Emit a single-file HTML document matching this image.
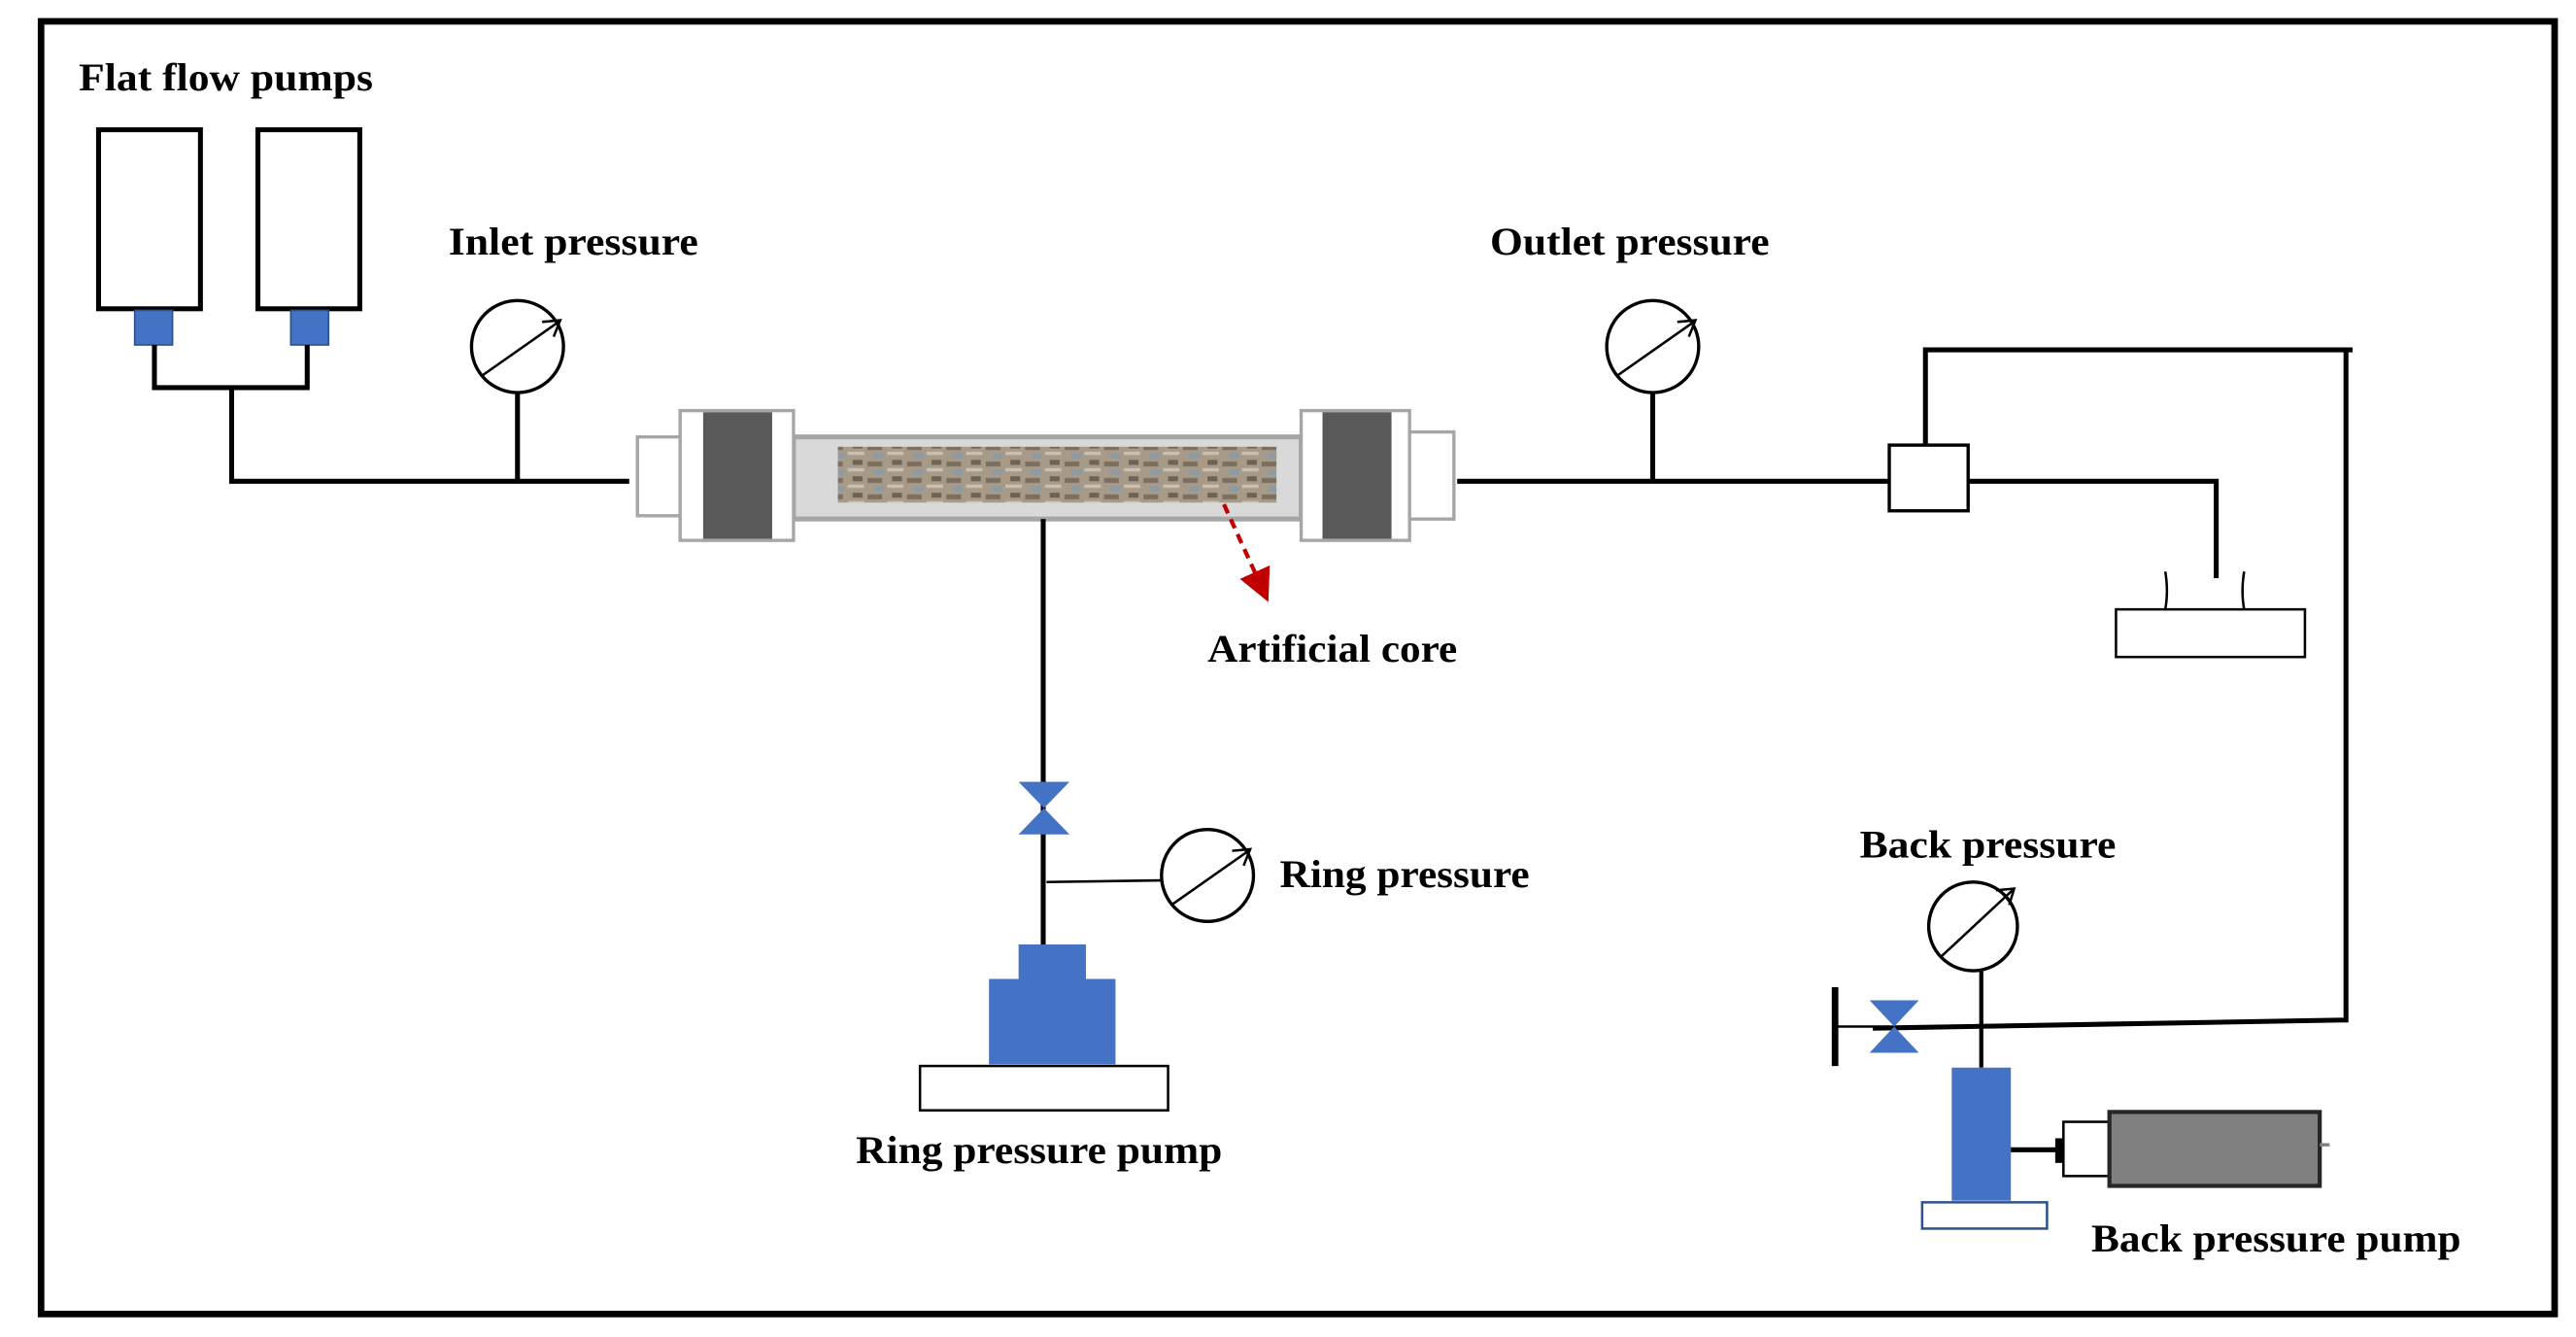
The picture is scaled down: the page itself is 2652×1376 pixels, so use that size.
<!DOCTYPE html>
<html><head><meta charset="utf-8"><style>
html,body{margin:0;padding:0;background:#fff;}
svg{display:block;}
text{font-family:"Liberation Serif",serif;font-weight:bold;font-size:24px;fill:#000;}
</style></head><body>
<svg width="2652" height="1376" viewBox="0 0 1568 814" preserveAspectRatio="none" xmlns="http://www.w3.org/2000/svg">
<defs>
<pattern id="rock" width="24" height="10" patternUnits="userSpaceOnUse">
<rect width="24" height="10" fill="#a89a88"/>
<rect x="0" y="1" width="9" height="3" fill="#7d6f60"/>
<rect x="12" y="5" width="10" height="2" fill="#c9c0b2"/>
<rect x="4" y="6" width="6" height="3" fill="#8a9aa6"/>
<rect x="15" y="0" width="6" height="3" fill="#6e6255"/>
</pattern>
<marker id="ah" markerWidth="8" markerHeight="8" refX="6" refY="4" orient="auto"><path d="M0,0 L8,4 L0,8 Z" fill="#c00000"/></marker>
</defs>
<rect x="25" y="13" width="1530" height="787" fill="none" stroke="#000" stroke-width="4"/>

<text x="48" y="55" textLength="179" lengthAdjust="spacingAndGlyphs">Flat flow pumps</text>
<rect x="60" y="79" width="62" height="109" fill="#fff" stroke="#000" stroke-width="3"/>
<rect x="157" y="79" width="62" height="109" fill="#fff" stroke="#000" stroke-width="3"/>
<rect x="82" y="189" width="23" height="21" fill="#4472c4" stroke="#2f528f" stroke-width="1"/>
<rect x="177" y="189" width="23" height="21" fill="#4472c4" stroke="#2f528f" stroke-width="1"/>
<polyline points="94,210 94,236 187,236 187,210" fill="none" stroke="#000" stroke-width="3"/>
<polyline points="141,236 141,293 383,293" fill="none" stroke="#000" stroke-width="3"/>

<text x="273" y="155" textLength="152" lengthAdjust="spacingAndGlyphs">Inlet pressure</text>
<circle cx="315" cy="211" r="28" fill="#fff" stroke="#000" stroke-width="2"/>
<line x1="293" y1="229" x2="340" y2="196" stroke="#000" stroke-width="1.5"/>
<polyline points="330,196 341,195 337,205" fill="none" stroke="#000" stroke-width="1.5"/>
<line x1="315" y1="239" x2="315" y2="293" stroke="#000" stroke-width="3"/>

<!-- core holder -->
<rect x="483" y="266" width="309" height="50" fill="#d9d9d9" stroke="#a6a6a6" stroke-width="3"/>
<rect x="510" y="272" width="267" height="34" fill="url(#rock)"/>
<rect x="388" y="266" width="26" height="48" fill="#fff" stroke="#a6a6a6" stroke-width="2"/>
<rect x="414" y="250" width="69" height="79" fill="#fff" stroke="#a6a6a6" stroke-width="2"/>
<rect x="428" y="251" width="42" height="77" fill="#595959"/>
<rect x="792" y="250" width="66" height="79" fill="#fff" stroke="#a6a6a6" stroke-width="2"/>
<rect x="805" y="251" width="42" height="77" fill="#595959"/>
<rect x="858" y="263" width="27" height="53" fill="#fff" stroke="#a6a6a6" stroke-width="2"/>
<line x1="745" y1="307" x2="770" y2="362" stroke="#c00000" stroke-width="2.5" stroke-dasharray="6,4" marker-end="url(#ah)"/>
<text x="735" y="403" textLength="152" lengthAdjust="spacingAndGlyphs">Artificial  core</text>

<line x1="887" y1="293" x2="1150" y2="293" stroke="#000" stroke-width="3"/>
<text x="907" y="155" textLength="170" lengthAdjust="spacingAndGlyphs">Outlet pressure</text>
<circle cx="1006" cy="211" r="28" fill="#fff" stroke="#000" stroke-width="2"/>
<line x1="984" y1="229" x2="1031" y2="196" stroke="#000" stroke-width="1.5"/>
<polyline points="1021,196 1032,195 1028,205" fill="none" stroke="#000" stroke-width="1.5"/>
<line x1="1006" y1="239" x2="1006" y2="293" stroke="#000" stroke-width="3"/>

<rect x="1150" y="271" width="48" height="40" fill="#fff" stroke="#000" stroke-width="2"/>
<polyline points="1198,293 1349,293 1349,352" fill="none" stroke="#000" stroke-width="3"/>
<path d="M1318,348 Q1320,360 1318,371 M1366,348 Q1364,360 1366,371" fill="none" stroke="#000" stroke-width="1.5"/>
<rect x="1288" y="371" width="115" height="29" fill="#fff" stroke="#000" stroke-width="1.5"/>
<polyline points="1172,271 1172,213 1432,213" fill="none" stroke="#000" stroke-width="3"/>
<polyline points="1428,213 1428,621 1140,626" fill="none" stroke="#000" stroke-width="3"/>

<!-- ring -->
<line x1="635" y1="316" x2="635" y2="575" stroke="#000" stroke-width="3"/>
<polygon points="620,476 651,476 620,508 651,508" fill="#4472c4"/>
<line x1="637" y1="537" x2="707" y2="536" stroke="#000" stroke-width="1.5"/>
<circle cx="735" cy="533" r="28" fill="#fff" stroke="#000" stroke-width="2"/>
<line x1="713" y1="551" x2="760" y2="518" stroke="#000" stroke-width="1.5"/>
<polyline points="750,518 761,517 757,527" fill="none" stroke="#000" stroke-width="1.5"/>
<text x="779" y="540" textLength="152" lengthAdjust="spacingAndGlyphs">Ring pressure</text>
<rect x="620" y="575" width="41" height="21" fill="#4472c4"/>
<rect x="602" y="596" width="77" height="52" fill="#4472c4"/>
<rect x="560" y="649" width="151" height="27" fill="#fff" stroke="#000" stroke-width="1.5"/>
<text x="521" y="708" textLength="223" lengthAdjust="spacingAndGlyphs">Ring pressure pump</text>

<!-- back -->
<text x="1132" y="522" textLength="156" lengthAdjust="spacingAndGlyphs">Back pressure</text>
<circle cx="1201" cy="564" r="27" fill="#fff" stroke="#000" stroke-width="2"/>
<line x1="1182" y1="582" x2="1225" y2="542" stroke="#000" stroke-width="1.5"/>
<polyline points="1215,542 1226,541 1223,551" fill="none" stroke="#000" stroke-width="1.5"/>
<line x1="1206" y1="591" x2="1206" y2="650" stroke="#000" stroke-width="2.5"/>
<line x1="1117" y1="601" x2="1117" y2="649" stroke="#000" stroke-width="4"/>
<line x1="1117" y1="625" x2="1150" y2="625" stroke="#000" stroke-width="1.5"/>
<polygon points="1138,609 1168,609 1138,641 1168,641" fill="#4472c4"/>
<rect x="1188" y="650" width="36" height="81" fill="#4472c4"/>
<rect x="1170" y="732" width="76" height="16" fill="#fff" stroke="#2f528f" stroke-width="1.5"/>
<line x1="1224" y1="700" x2="1256" y2="700" stroke="#000" stroke-width="3"/>
<rect x="1251" y="693" width="5" height="15" fill="#000"/>
<rect x="1256" y="683" width="28" height="33" fill="#fff" stroke="#000" stroke-width="1.5"/>
<rect x="1284" y="677" width="128" height="45" fill="#808080" stroke="#262626" stroke-width="2.5"/>
<line x1="1412" y1="697" x2="1418" y2="697" stroke="#808080" stroke-width="2"/>
<text x="1273" y="762" textLength="225" lengthAdjust="spacingAndGlyphs">Back pressure pump</text>
</svg>
</body></html>
